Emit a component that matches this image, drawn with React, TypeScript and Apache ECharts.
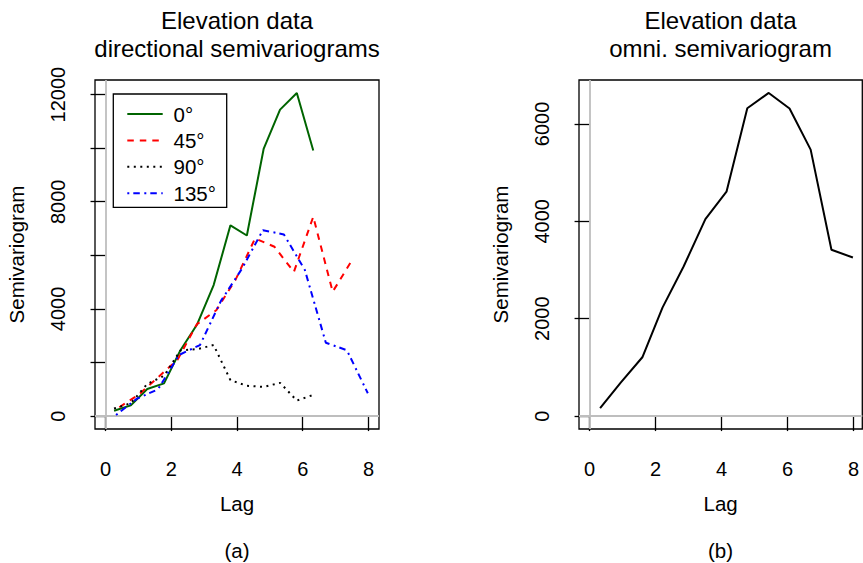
import React, { useEffect, useRef } from "react";
import * as echarts from "echarts";

// ---- data ----
const lags0_90 = [0.26, 0.77, 1.27, 1.78, 2.28, 2.79, 3.29, 3.8, 4.3, 4.81, 5.31, 5.82, 6.32];
const lags45 = [0.42, 1.01, 1.6, 2.19, 2.78, 3.37, 3.96, 4.55, 5.14, 5.73, 6.32, 6.91, 7.5];
const lags135 = [0.32, 0.958, 1.597, 2.235, 2.873, 3.512, 4.15, 4.788, 5.427, 6.065, 6.703, 7.342, 7.98];
const lagsOmni = [0.32, 0.95, 1.6, 2.21, 2.85, 3.51, 4.15, 4.78, 5.43, 6.06, 6.7, 7.33, 7.98];

const semi0 = [200, 400, 1010, 1220, 2460, 3430, 4890, 7120, 6740, 9970, 11440, 12060, 9910];
const semi45 = [330, 800, 1450, 2100, 3430, 3950, 5100, 6630, 6320, 5380, 7440, 4640, 5820];
const semi90 = [280, 480, 1200, 1500, 2450, 2500, 2650, 1340, 1130, 1090, 1240, 580, 790];
const semi135 = [40, 650, 1000, 2280, 2650, 4300, 5500, 6940, 6780, 5450, 2735, 2460, 850];
const semiOmni = [165, 693, 1208, 2228, 3072, 4047, 4609, 6323, 6638, 6317, 5473, 3416, 3257];

const xTicks = [0, 2, 4, 6, 8];
const yTicksA = [0, 2000, 4000, 6000, 8000, 10000, 12000];
const yLabelsA = [0, 4000, 8000, 12000];
const yTicksB = [0, 2000, 4000, 6000];
const yLabelsB = [0, 2000, 4000, 6000];

const legendLabels = ["0°", "45°", "90°", "135°"];
const seriesColors = ["#006400", "#ff0000", "#000000", "#0000ff"];
const dashes: any[] = ["solid", [6.5, 6], [2, 4.5], [2, 4, 6.5, 4.5]];

const FONT = "'Liberation Sans', Arial, Helvetica, sans-serif";

function pairs(xs: number[], ys: number[]) {
  return xs.map((x, i) => [x, ys[i]]);
}

export default function App() {
  const ref = useRef<HTMLDivElement>(null);

  useEffect(() => {
    document.body.style.margin = "0";
    const chart = echarts.init(ref.current!, null, { renderer: "svg" });

    const gridTop = 80;
    const gridH = 349;
    const grids = [
      { left: 95, top: gridTop, width: 284, height: gridH },
      { left: 579, top: gridTop, width: 283.3, height: gridH },
    ];

    const xAxisBase = (idx: number, max: number) => ({
      type: "value",
      gridIndex: idx,
      min: -0.32,
      max,
      splitLine: { show: false },
      axisLine: { show: false },
      axisTick: {
        show: true,
        inside: false,
        length: 15,
        customValues: xTicks,
        lineStyle: { color: "#000", width: 1.3 },
      },
      axisLabel: {
        customValues: xTicks,
        margin: 30,
        fontSize: 20,
        color: "#000",
        fontFamily: FONT,
        formatter: (v: number) => String(v),
      },
      name: "Lag",
      nameLocation: "middle",
      nameGap: 64,
      nameTextStyle: { fontSize: 20.5, color: "#000", fontFamily: FONT },
    });

    const yAxisBase = (idx: number, min: number, max: number, ticks: number[], labels: number[]) => ({
      type: "value",
      gridIndex: idx,
      min,
      max,
      splitLine: { show: false },
      axisLine: { show: false },
      axisTick: {
        show: true,
        inside: false,
        length: 15,
        customValues: ticks,
        lineStyle: { color: "#000", width: 1.3 },
      },
      axisLabel: {
        customValues: labels,
        rotate: 90,
        margin: 27,
        fontSize: 20,
        color: "#000",
        fontFamily: FONT,
        formatter: (v: number) => String(v),
      },
      name: "Semivariogram",
      nameLocation: "middle",
      nameRotate: 90,
      nameGap: 68,
      nameTextStyle: { fontSize: 20.5, color: "#000", fontFamily: FONT },
    });

    const refLines = (xi: number, yi: number) => ({
      type: "line",
      xAxisIndex: xi,
      yAxisIndex: yi,
      data: [],
      silent: true,
      markLine: {
        silent: true,
        symbol: "none",
        label: { show: false },
        lineStyle: { color: "#bebebe", width: 1.8, type: "solid" },
        data: [{ xAxis: 0 }, { yAxis: 0 }],
      },
    });

    const dirData = [
      pairs(lags0_90, semi0),
      pairs(lags45, semi45),
      pairs(lags0_90, semi90),
      pairs(lags135, semi135),
    ];

    const dirSeries = dirData.map((d, i) => ({
      type: "line",
      name: legendLabels[i],
      xAxisIndex: 0,
      yAxisIndex: 0,
      data: d,
      symbol: "none",
      lineStyle: { color: seriesColors[i], width: 2, type: dashes[i] },
      z: 5,
    }));

    // legend drawn as graphic
    const legX = 113.3;
    const legY = 94;
    const legW = 113.4;
    const legH = 113.3;
    const rowY = [114, 140.4, 166.8, 193.2];
    const legendGraphics: any[] = [
      {
        type: "rect",
        shape: { x: legX, y: legY, width: legW, height: legH },
        style: { fill: "#fff", stroke: "#000", lineWidth: 1.3 },
        z: 10,
      },
    ];
    legendLabels.forEach((lab, i) => {
      legendGraphics.push({
        type: "line",
        shape: { x1: 127.3, y1: rowY[i], x2: 162.7, y2: rowY[i] },
        style: {
          stroke: seriesColors[i],
          lineWidth: 2,
          lineDash: dashes[i] === "solid" ? null : dashes[i],
        },
        z: 11,
      });
      legendGraphics.push({
        type: "text",
        x: 173.5,
        y: rowY[i],
        style: {
          text: lab,
          fontSize: 20.5,
          fontFamily: FONT,
          fill: "#000",
          textVerticalAlign: "middle",
          verticalAlign: "middle",
          textAlign: "left",
          align: "left",
        },
        z: 11,
      });
    });

    const titleText = (x: number, text: string) => ({
      type: "text",
      x,
      y: 6,
      style: {
        text,
        fontSize: 24,
        lineHeight: 28.5,
        fontFamily: FONT,
        fill: "#000",
        textAlign: "center",
        align: "center",
        verticalAlign: "top",
      },
    });

    const subText = (x: number, text: string) => ({
      type: "text",
      x,
      y: 550,
      style: {
        text,
        fontSize: 20.5,
        fontFamily: FONT,
        fill: "#000",
        textAlign: "center",
        align: "center",
        verticalAlign: "middle",
      },
    });

    chart.setOption({
      animation: false,
      backgroundColor: "#fff",
      grid: grids.map((g) => ({
        ...g,
        show: true,
        borderColor: "#000",
        borderWidth: 1.3,
        backgroundColor: "transparent",
        containLabel: false,
        outerBoundsMode: "none",
      })),
      xAxis: [xAxisBase(0, 8.32), xAxisBase(1, 8.265)],
      yAxis: [
        yAxisBase(0, -482.5, 12544.5, yTicksA, yLabelsA),
        yAxisBase(1, -265.5, 6903.5, yTicksB, yLabelsB),
      ],
      series: [
        refLines(0, 0),
        refLines(1, 1),
        ...dirSeries,
        {
          type: "line",
          name: "omni",
          xAxisIndex: 1,
          yAxisIndex: 1,
          data: pairs(lagsOmni, semiOmni),
          symbol: "none",
          lineStyle: { color: "#000", width: 2 },
          z: 5,
        },
      ],
      graphic: [
        titleText(237, "Elevation data\ndirectional semivariograms"),
        titleText(720.5, "Elevation data\nomni. semivariogram"),
        subText(237, "(a)"),
        subText(720.5, "(b)"),
        ...legendGraphics,
      ],
    });

    return () => chart.dispose();
  }, []);

  return (
    <div
      ref={ref}
      style={{ position: "absolute", left: 0, top: 0, width: 863, height: 563 }}
    />
  );
}
